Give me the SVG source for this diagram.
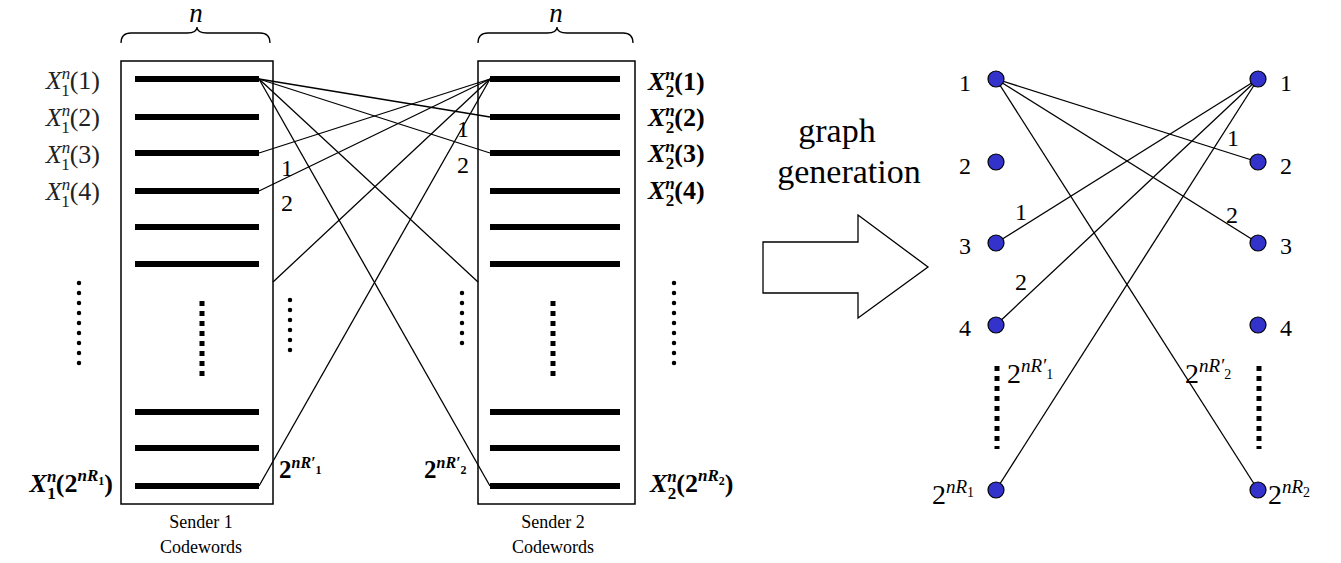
<svg xmlns="http://www.w3.org/2000/svg" width="1341" height="563" viewBox="0 0 1341 563">
<style>
text{font-family:"Liberation Serif","Times New Roman","DejaVu Serif",serif;fill:#000}
.box{fill:none;stroke:#000;stroke-width:1.5}
.bar{stroke:#000;stroke-width:6}
.ln{stroke:#000;stroke-width:1.3;fill:none}
.dots{stroke:#000;stroke-width:4.5;stroke-linecap:round;stroke-dasharray:0 10;fill:none}
.sq{stroke:#000;stroke-width:5;stroke-dasharray:5 5;fill:none}
.node{fill:#3333CC;stroke:#000;stroke-width:1.2}
.xl{font-size:26px;fill:#222}
.xr{font-size:26px;font-weight:bold}
.num{font-size:24px}
.cap{font-size:18px}
</style>
<rect width="1341" height="563" fill="#fff"/>

<g id="sender1" font-family="Liberation Serif, serif">
<path class="ln" d="M121,43 Q121,33 131,33 L187,33 Q197,33 197,27 Q197,33 207,33 L260,33 Q270,33 270,43"/>
<text x="196" y="22" font-size="27" font-style="italic" text-anchor="middle">n</text>
<rect class="box" x="121" y="61" width="152" height="443"/>
<line class="bar" x1="135" y1="79" x2="259" y2="79"/>
<line class="bar" x1="135" y1="117" x2="259" y2="117"/>
<line class="bar" x1="135" y1="153" x2="259" y2="153"/>
<line class="bar" x1="135" y1="191" x2="259" y2="191"/>
<line class="bar" x1="135" y1="227" x2="259" y2="227"/>
<line class="bar" x1="135" y1="264" x2="259" y2="264"/>
<line class="bar" x1="135" y1="412" x2="259" y2="412"/>
<line class="bar" x1="135" y1="448" x2="259" y2="448"/>
<line class="bar" x1="135" y1="486" x2="259" y2="486"/>
<line class="sq" x1="202" y1="301" x2="202" y2="376"/>
<text class="cap" x="201" y="528" text-anchor="middle">Sender 1</text>
<text class="cap" x="201" y="553" text-anchor="middle">Codewords</text>
</g>

<g id="sender2" font-family="Liberation Serif, serif">
<path class="ln" d="M478,43 Q478,33 488,33 L547,33 Q557,33 557,27 Q557,33 567,33 L623,33 Q633,33 633,43"/>
<text x="556" y="22" font-size="27" font-style="italic" text-anchor="middle">n</text>
<rect class="box" x="478" y="61" width="157" height="443"/>
<line class="bar" x1="490" y1="79" x2="620" y2="79"/>
<line class="bar" x1="490" y1="117" x2="620" y2="117"/>
<line class="bar" x1="490" y1="153" x2="620" y2="153"/>
<line class="bar" x1="490" y1="191" x2="620" y2="191"/>
<line class="bar" x1="490" y1="227" x2="620" y2="227"/>
<line class="bar" x1="490" y1="264" x2="620" y2="264"/>
<line class="bar" x1="490" y1="412" x2="620" y2="412"/>
<line class="bar" x1="490" y1="448" x2="620" y2="448"/>
<line class="bar" x1="490" y1="486" x2="620" y2="486"/>
<line class="sq" x1="553" y1="301" x2="553" y2="376"/>
<text class="cap" x="553" y="528" text-anchor="middle">Sender 2</text>
<text class="cap" x="553" y="553" text-anchor="middle">Codewords</text>
</g>

<g id="labels-left" font-family="Liberation Serif, serif">
<text class="xl" x="100" y="89" text-anchor="end"><tspan font-style="italic">X</tspan><tspan font-size="17" font-style="italic" dy="-10">n</tspan><tspan font-size="17" dx="-9" dy="17">1</tspan><tspan dy="-7">(1)</tspan></text>
<text class="xl" x="100" y="126" text-anchor="end"><tspan font-style="italic">X</tspan><tspan font-size="17" font-style="italic" dy="-10">n</tspan><tspan font-size="17" dx="-9" dy="17">1</tspan><tspan dy="-7">(2)</tspan></text>
<text class="xl" x="100" y="163" text-anchor="end"><tspan font-style="italic">X</tspan><tspan font-size="17" font-style="italic" dy="-10">n</tspan><tspan font-size="17" dx="-9" dy="17">1</tspan><tspan dy="-7">(3)</tspan></text>
<text class="xl" x="100" y="200" text-anchor="end"><tspan font-style="italic">X</tspan><tspan font-size="17" font-style="italic" dy="-10">n</tspan><tspan font-size="17" dx="-9" dy="17">1</tspan><tspan dy="-7">(4)</tspan></text>
<text class="xr" x="113" y="492" text-anchor="end"><tspan font-style="italic">X</tspan><tspan font-size="17" font-style="italic" dy="-10">n</tspan><tspan font-size="17" dx="-9" dy="17">1</tspan><tspan dy="-7">(2</tspan><tspan font-size="17" font-style="italic" dy="-11">nR</tspan><tspan font-size="12" dy="4">1</tspan><tspan dy="7">)</tspan></text>
<line class="dots" x1="79" y1="283" x2="79" y2="373"/>
<line class="dots" x1="290" y1="300" x2="290" y2="360"/>
</g>

<g id="labels-right" font-family="Liberation Serif, serif">
<text class="xr" x="648" y="90"><tspan font-style="italic">X</tspan><tspan font-size="17" font-style="italic" dy="-10">n</tspan><tspan font-size="17" dx="-9" dy="17">2</tspan><tspan dy="-7">(1)</tspan></text>
<text class="xr" x="648" y="126"><tspan font-style="italic">X</tspan><tspan font-size="17" font-style="italic" dy="-10">n</tspan><tspan font-size="17" dx="-9" dy="17">2</tspan><tspan dy="-7">(2)</tspan></text>
<text class="xr" x="648" y="162"><tspan font-style="italic">X</tspan><tspan font-size="17" font-style="italic" dy="-10">n</tspan><tspan font-size="17" dx="-9" dy="17">2</tspan><tspan dy="-7">(3)</tspan></text>
<text class="xr" x="648" y="199"><tspan font-style="italic">X</tspan><tspan font-size="17" font-style="italic" dy="-10">n</tspan><tspan font-size="17" dx="-9" dy="17">2</tspan><tspan dy="-7">(4)</tspan></text>
<text class="xr" x="650" y="492"><tspan font-style="italic">X</tspan><tspan font-size="17" font-style="italic" dy="-10">n</tspan><tspan font-size="17" dx="-9" dy="17">2</tspan><tspan dy="-7">(2</tspan><tspan font-size="17" font-style="italic" dy="-11">nR</tspan><tspan font-size="12" dy="4">2</tspan><tspan dy="7">)</tspan></text>
<line class="dots" x1="462" y1="293" x2="462" y2="353"/>
<line class="dots" x1="674" y1="283" x2="674" y2="373"/>
</g>

<g id="connectors-codewords" font-family="Liberation Serif, serif">
<line class="ln" x1="259" y1="79" x2="490" y2="117"/>
<line class="ln" x1="259" y1="79" x2="490" y2="153"/>
<line class="ln" x1="259" y1="79" x2="478" y2="282"/>
<line class="ln" x1="259" y1="79" x2="490" y2="486"/>
<line class="ln" x1="490" y1="79" x2="259" y2="153"/>
<line class="ln" x1="490" y1="79" x2="259" y2="191"/>
<line class="ln" x1="490" y1="79" x2="273" y2="282"/>
<line class="ln" x1="490" y1="79" x2="259" y2="486"/>
<text class="num" x="281" y="176">1</text>
<text class="num" x="281" y="211">2</text>
<text class="num" x="457" y="137">1</text>
<text class="num" x="457" y="173">2</text>
<text x="279" y="478" font-size="25" font-weight="bold">2<tspan font-size="16" font-style="italic" dy="-10">nR′</tspan><tspan font-size="12" dy="6">1</tspan></text>
<text x="424" y="478" font-size="25" font-weight="bold">2<tspan font-size="16" font-style="italic" dy="-10">nR′</tspan><tspan font-size="12" dy="6">2</tspan></text>
</g>

<g id="arrow" font-family="Liberation Serif, serif">
<text x="837" y="142" font-size="34" text-anchor="middle">graph</text>
<text x="849" y="183" font-size="34" text-anchor="middle">generation</text>
<polygon points="763,242 858,242 858,215 928,267 858,318 858,293 763,293" fill="#fff" stroke="#000" stroke-width="1.3"/>
</g>

<g id="graph-edges" font-family="Liberation Serif, serif">
<line class="ln" x1="996" y1="79" x2="1258" y2="162"/>
<line class="ln" x1="996" y1="79" x2="1258" y2="243"/>
<line class="ln" x1="996" y1="79" x2="1258" y2="490"/>
<line class="ln" x1="1258" y1="79" x2="996" y2="243"/>
<line class="ln" x1="1258" y1="79" x2="996" y2="325"/>
<line class="ln" x1="1258" y1="79" x2="996" y2="490"/>
<text class="num" x="1227" y="146">1</text>
<text class="num" x="1226" y="223">2</text>
<text class="num" x="1015" y="220">1</text>
<text class="num" x="1015" y="290">2</text>
<text x="1007" y="383" font-size="28">2<tspan font-size="19" font-style="italic" dy="-11">nR′</tspan><tspan font-size="14" dy="7">1</tspan></text>
<text x="1185" y="383" font-size="28">2<tspan font-size="19" font-style="italic" dy="-11">nR′</tspan><tspan font-size="14" dy="7">2</tspan></text>
</g>

<g id="graph-left" font-family="Liberation Serif, serif">
<circle id="L1" class="node" cx="996" cy="79" r="8"/>
<circle id="L2" class="node" cx="996" cy="162" r="8"/>
<circle id="L3" class="node" cx="996" cy="243" r="8"/>
<circle id="L4" class="node" cx="996" cy="325" r="8"/>
<circle id="Ln" class="node" cx="996" cy="490" r="8"/>
<text class="num" x="965" y="91" text-anchor="middle">1</text>
<text class="num" x="965" y="174" text-anchor="middle">2</text>
<text class="num" x="965" y="254" text-anchor="middle">3</text>
<text class="num" x="965" y="336" text-anchor="middle">4</text>
<text x="932" y="504" font-size="28">2<tspan font-size="19" font-style="italic" dy="-11">nR</tspan><tspan font-size="14" dy="4">1</tspan></text>
<line class="sq" x1="997" y1="366" x2="997" y2="449"/>
</g>

<g id="graph-right" font-family="Liberation Serif, serif">
<circle id="R1" class="node" cx="1258" cy="79" r="8"/>
<circle id="R2" class="node" cx="1258" cy="162" r="8"/>
<circle id="R3" class="node" cx="1258" cy="243" r="8"/>
<circle id="R4" class="node" cx="1258" cy="325" r="8"/>
<circle id="Rn" class="node" cx="1258" cy="490" r="8"/>
<text class="num" x="1280" y="91">1</text>
<text class="num" x="1280" y="174">2</text>
<text class="num" x="1280" y="254">3</text>
<text class="num" x="1280" y="336">4</text>
<text x="1268" y="504" font-size="28">2<tspan font-size="19" font-style="italic" dy="-11">nR</tspan><tspan font-size="14" dy="4">2</tspan></text>
<line class="sq" x1="1259" y1="366" x2="1259" y2="449"/>
</g>
</svg>
